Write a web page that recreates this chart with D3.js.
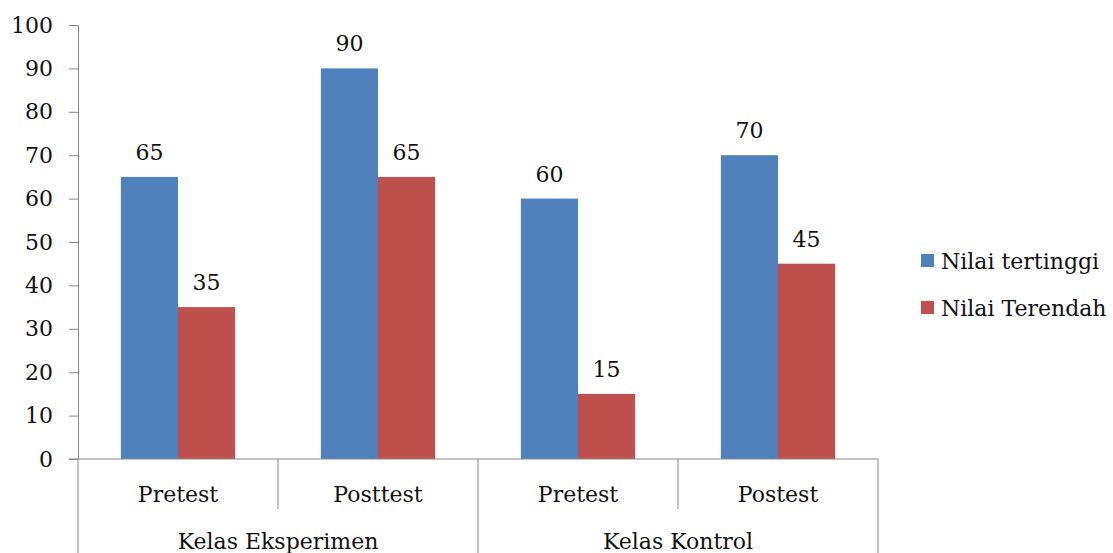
<!DOCTYPE html>
<html>
<head>
<meta charset="utf-8">
<script src="https://cdn.jsdelivr.net/npm/d3@7.9.0/dist/d3.min.js"></script>
<style>
  body { margin: 0; background: #fff; }
  svg text { font-family: "DejaVu Serif", serif; fill: #111; }
</style>
</head>
<body>
<svg width="1113" height="553"></svg>
<script>
// data
const groups = ["Kelas Eksperimen", "Kelas Kontrol"];
const tests = ["Pretest", "Posttest", "Pretest", "Postest"];
const groupOf = [0, 0, 1, 1];
const seriesNames = ["Nilai tertinggi", "Nilai Terendah"];
const tertinggi = [65, 90, 60, 70];
const terendah = [35, 65, 15, 45];
const yTicks = [0, 10, 20, 30, 40, 50, 60, 70, 80, 90, 100];

const colors = ["#4f81bd", "#c0504d"];
const axisColor = "#898989";
const fontSize = 22;

let svg = d3.select("svg");

// plot area
const plotLeft = 78, plotRight = 878, plotTop = 25, plotBottom = 459;

let x0 = d3.scaleBand()
  .domain(d3.range(tests.length))
  .range([plotLeft, plotRight])
  .padding(0);

let x1 = d3.scaleBand()
  .domain(d3.range(seriesNames.length))
  .range([0, x0.bandwidth()])
  .paddingInner(0)
  .paddingOuter(0.75);

let y = d3.scaleLinear().domain([0, 100]).range([plotBottom, plotTop]);

// y axis
let yAxis = svg.append("g")
  .attr("transform", `translate(${plotLeft},0)`)
  .call(d3.axisLeft(y).tickValues(yTicks).tickSize(9).tickPadding(16));
yAxis.select(".domain").attr("stroke", axisColor);
yAxis.selectAll(".tick line").attr("stroke", axisColor);
yAxis.selectAll(".tick text")
  .style("font-size", fontSize + "px")
  .attr("fill", "#111");

// bars
let rows = tests.map((t, i) => ({ i, values: [tertinggi[i], terendah[i]] }));

let catG = svg.selectAll(".cat")
  .data(rows)
  .join("g")
  .attr("class", "cat")
  .attr("transform", d => `translate(${x0(d.i)},0)`);

catG.selectAll("rect")
  .data(d => d.values.map((v, s) => ({ v, s })))
  .join("rect")
  .attr("x", d => x1(d.s))
  .attr("y", d => y(d.v))
  .attr("width", x1.bandwidth())
  .attr("height", d => y(0) - y(d.v))
  .attr("fill", d => colors[d.s]);

catG.selectAll("text.val")
  .data(d => d.values.map((v, s) => ({ v, s })))
  .join("text")
  .attr("class", "val")
  .attr("x", d => x1(d.s) + x1.bandwidth() / 2)
  .attr("y", d => y(d.v) - 17)
  .attr("text-anchor", "middle")
  .style("font-size", fontSize + "px")
  .text(d => d.v);

// category axis line
svg.append("line")
  .attr("x1", plotLeft - 9).attr("x2", plotRight)
  .attr("y1", plotBottom).attr("y2", plotBottom)
  .attr("stroke", axisColor);

// separators: short between tests, long between groups
d3.range(tests.length + 1).forEach(k => {
  let xPos = k < tests.length ? x0(k) : plotRight;
  let isGroupEdge = k === 0 || k === tests.length || groupOf[k] !== groupOf[k - 1];
  svg.append("line")
    .attr("x1", xPos).attr("x2", xPos)
    .attr("y1", plotBottom).attr("y2", isGroupEdge ? 553 : 509)
    .attr("stroke", axisColor);
});

// test labels
svg.selectAll(".testLabel")
  .data(tests)
  .join("text")
  .attr("class", "testLabel")
  .attr("x", (d, i) => x0(i) + x0.bandwidth() / 2)
  .attr("y", 502)
  .attr("text-anchor", "middle")
  .style("font-size", fontSize + "px")
  .text(d => d);

// group labels
svg.selectAll(".groupLabel")
  .data(groups)
  .join("text")
  .attr("class", "groupLabel")
  .attr("x", (d, g) => {
    let idx = d3.range(tests.length).filter(i => groupOf[i] === g);
    return (x0(idx[0]) + x0(idx[idx.length - 1]) + x0.bandwidth()) / 2;
  })
  .attr("y", 549)
  .attr("text-anchor", "middle")
  .style("font-size", fontSize + "px")
  .text(d => d);

// legend
let legend = svg.append("g").attr("transform", "translate(921,0)");
seriesNames.forEach((name, s) => {
  let cy = 261 + s * 47;
  legend.append("rect")
    .attr("x", 0).attr("y", cy - 7)
    .attr("width", 13).attr("height", 13)
    .attr("fill", colors[s]);
  legend.append("text")
    .attr("x", 20).attr("y", cy)
    .attr("dy", "0.35em")
    .style("font-size", fontSize + "px")
    .text(name);
});
</script>
</body>
</html>
